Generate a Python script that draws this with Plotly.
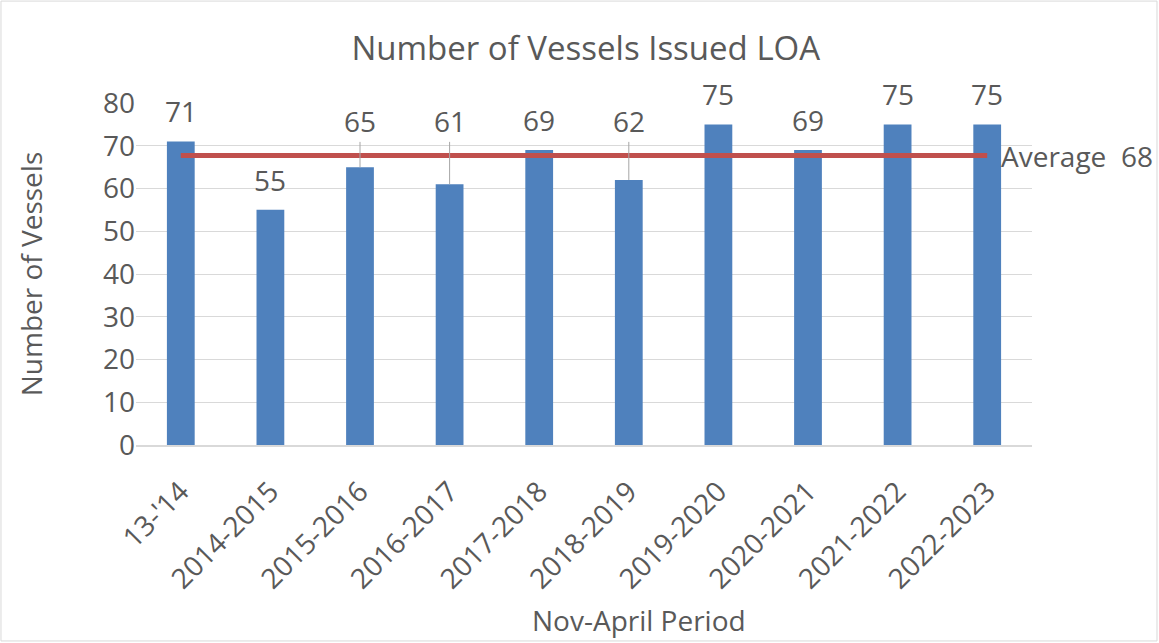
import plotly.graph_objects as go

# chart data
periods = ["13-'14", "2014-2015", "2015-2016", "2016-2017", "2017-2018",
           "2018-2019", "2019-2020", "2020-2021", "2021-2022", "2022-2023"]
vessels = [71, 55, 65, 61, 69, 62, 75, 69, 75, 75]

avg = sum(vessels) / len(vessels)

grey = '#595959'
font = 'Open Sans'
fs = 28

fig = go.Figure()

fig.add_trace(go.Bar(
    x=periods, y=vessels,
    marker=dict(color='#4F81BD', line=dict(width=0)),
    width=0.31,
    hoverinfo='x+y'
))

# average line
fig.add_trace(go.Scatter(
    x=periods, y=[avg] * len(periods),
    mode='lines',
    line=dict(color='#C0504D', width=5),
    hoverinfo='skip'
))

# data labels, moved above the average line where they would hit it
ann = []
for p, v in zip(periods, vessels):
    if abs(v + 7 - avg) < 5:
        ann.append(dict(x=p, y=v, xref='x', yref='y', text=str(v),
                        showarrow=True, arrowhead=0, arrowwidth=1,
                        arrowcolor='#A6A6A6', ax=0, ayref='y', ay=avg + 8,
                        font=dict(family=font, size=fs, color=grey)))
    else:
        ann.append(dict(x=p, y=v, xref='x', yref='y', text=str(v),
                        showarrow=False, yanchor='middle', yshift=30,
                        font=dict(family=font, size=fs, color=grey)))

ann.append(dict(x=periods[-1], y=avg, xref='x', yref='y',
                text='Average\u00a0 ' + str(round(avg)),
                showarrow=False, xanchor='left', xshift=12,
                font=dict(family=font, size=fs, color=grey)))

ann.append(dict(x=0.561, y=-0.512, xref='paper', yref='paper',
                text='Nov-April Period', showarrow=False,
                xanchor='center', yanchor='middle',
                font=dict(family=font, size=fs, color=grey)))

fig.update_layout(
    width=1159, height=643,
    margin=dict(l=136, r=127, t=103, b=198),
    plot_bgcolor='white', paper_bgcolor='white',
    showlegend=False,
    title=dict(text='Number of Vessels Issued LOA', x=0.502, xref='paper',
               y=0.925, yanchor='middle',
               font=dict(family=font, size=33, color=grey)),
    annotations=ann,
    shapes=[dict(type='rect', xref='paper', yref='paper',
                 x0=-0.1507, x1=1.1395, y0=-0.573, y1=1.298,
                 line=dict(color='#D9D9D9', width=1))],
)

fig.update_xaxes(
    range=[-0.5, len(periods) - 0.5],
    tickangle=-45, tickfont=dict(family=font, size=fs, color=grey),
    showgrid=False, showline=True, linecolor='#D9D9D9', linewidth=2,
    ticks='', automargin=False, ticklabelstandoff=17
)
fig.update_yaxes(
    range=[0, 80], dtick=10,
    tickfont=dict(family=font, size=fs, color=grey),
    showgrid=True, gridcolor='#D9D9D9', gridwidth=1,
    zeroline=False, ticks='', ticklen=0, automargin=False,
    title=dict(text='Number of Vessels', standoff=52,
               font=dict(family=font, size=fs, color=grey))
)

fig.write_html("out.html", config={'displayModeBar': False},
               post_script="document.body.style.margin='0';")
